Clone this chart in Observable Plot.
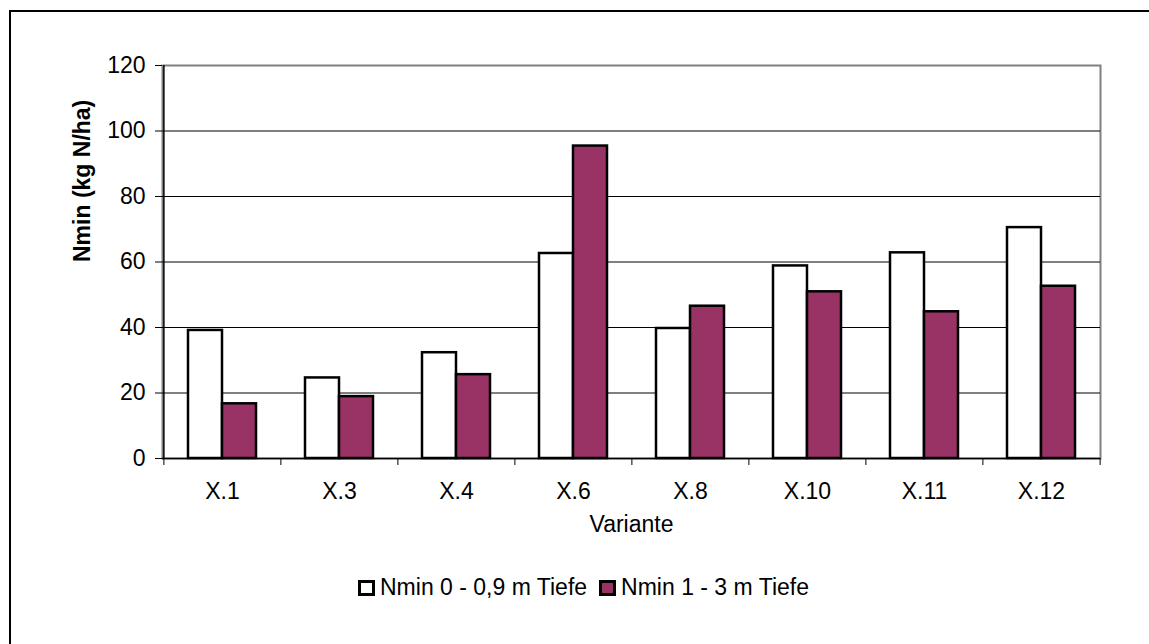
<!DOCTYPE html>
<html>
<head>
<meta charset="utf-8">
<script src="https://cdn.jsdelivr.net/npm/d3@7"></script>
<script src="https://cdn.jsdelivr.net/npm/@observablehq/plot@0.6"></script>
<style>
  html, body { margin: 0; padding: 0; background: #fff; overflow: hidden; }
  body { width: 1149px; height: 644px; position: relative; font-family: "Liberation Sans", Arial, sans-serif; }
  #chart { position: absolute; left: 0; top: 0; }
  #outline { position: absolute; left: 9px; top: 10px; width: 1140px; height: 634px; border-top: 2px solid #000; border-left: 2px solid #000; box-sizing: border-box; pointer-events: none; z-index: 2; }
  #legend { position: absolute; left: 358px; top: 574px; display: flex; align-items: center; font-size: 23px; color: #000; white-space: nowrap; }
  #legend .sw { display: inline-block; width: 17px; height: 16px; border: 3px solid #000; box-sizing: border-box; margin-right: 5px; }
  #legend .item { display: flex; align-items: center; margin-right: 12px; }
</style>
</head>
<body>
<div id="chart"></div>
<div id="outline"></div>
<div id="legend"></div>
<script>
// Nmin per variant, two soil depths (kg N/ha)
const categories = ["X.1", "X.3", "X.4", "X.6", "X.8", "X.10", "X.11", "X.12"];
const shallow = [39.1, 24.6, 32.3, 62.6, 39.7, 58.8, 62.8, 70.5];
const deep = [16.7, 18.9, 25.6, 95.4, 46.5, 50.9, 44.8, 52.6];
const seriesNames = ["Nmin 0 - 0,9 m Tiefe", "Nmin 1 - 3 m Tiefe"];
const seriesColors = ["#ffffff", "#993366"];
const yTicks = [0, 20, 40, 60, 80, 100, 120];
const gridValues = [20, 40, 60, 80, 100];

const width = 1149, height = 560;
const marginLeft = 162, marginRight = 49, marginTop = 65, marginBottom = 102;
const paddingInner = 0.42;
const step = (width - marginLeft - marginRight) / categories.length;
const halfBar = step * (1 - paddingInner) / 2;
const fontSize = 23;

const rows = categories.map((c, i) => ({cat: c, shallow: shallow[i], deep: deep[i]}));

const chart = Plot.plot({
  width, height, marginLeft, marginRight, marginTop, marginBottom,
  style: {fontFamily: "Liberation Sans, Arial, sans-serif", fontSize: fontSize + "px", color: "#000", background: "transparent"},
  x: {type: "band", domain: categories, paddingInner, paddingOuter: paddingInner / 2, axis: null},
  y: {domain: [0, 120], axis: null},
  marks: [
    Plot.frame({stroke: "#808080", strokeWidth: 2}),
    Plot.ruleY(gridValues, {stroke: "#000", strokeWidth: 1}),
    Plot.barY(rows, {x: "cat", y: "shallow", fill: seriesColors[0], stroke: "#000", strokeWidth: 2.5, insetRight: halfBar}),
    Plot.barY(rows, {x: "cat", y: "deep", fill: seriesColors[1], stroke: "#000", strokeWidth: 2.5, insetLeft: halfBar}),
    // value axis line and category axis line
    Plot.ruleX([categories[0]], {dx: -step / 2, stroke: "#000", strokeWidth: 1.5}),
    Plot.ruleY([0], {stroke: "#000", strokeWidth: 1.5}),
    // category boundary ticks below the axis
    Plot.ruleX(categories, {x: d => d, y1: 0, y2: 0, insetBottom: -7, dx: -step / 2, stroke: "#000", strokeWidth: 1}),
    Plot.ruleX([categories[categories.length - 1]], {x: d => d, y1: 0, y2: 0, insetBottom: -7, dx: step / 2, stroke: "#000", strokeWidth: 1}),
    Plot.axisY({ticks: yTicks, tickSize: 7, tickPadding: 10, fontSize, stroke: "#000", strokeWidth: 1, label: null}),
    Plot.axisX({tickSize: 0, tickPadding: 24, fontSize, label: null}),
    Plot.text(["Variante"], {frameAnchor: "bottom", dy: 73, fontSize, fill: "#000"}),
    Plot.text(["Nmin (kg N/ha)"], {frameAnchor: "left", dx: -80, rotate: -90, fontSize, fontWeight: "bold", fill: "#000"})
  ]
});
document.getElementById("chart").appendChild(chart);

const legend = document.getElementById("legend");
seriesNames.forEach((name, i) => {
  const item = document.createElement("span");
  item.className = "item";
  const sw = document.createElement("span");
  sw.className = "sw";
  sw.style.background = seriesColors[i];
  item.appendChild(sw);
  item.appendChild(document.createTextNode(name));
  legend.appendChild(item);
});
</script>
</body>
</html>
